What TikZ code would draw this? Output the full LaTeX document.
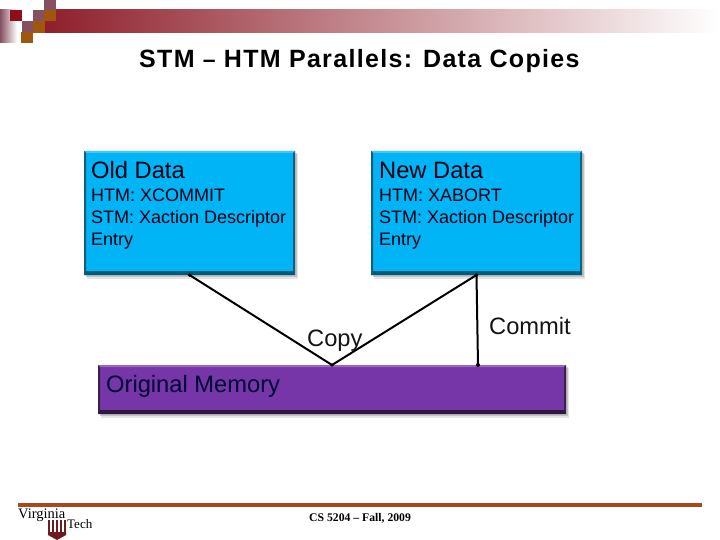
\documentclass[tikz,border=0pt]{standalone}
\usepackage{fontspec}
\setmainfont{Liberation Sans}
\newfontfamily\serifface{Liberation Serif}
\usetikzlibrary{calc}
\definecolor{boxblue}{HTML}{00B4F5}
\definecolor{boxpurple}{HTML}{7636A8}
\definecolor{barred}{HTML}{8E1F2B}
\definecolor{mauve}{HTML}{85505F}
\definecolor{rust}{HTML}{A0560F}
\definecolor{darkred}{HTML}{8C0F1E}
\definecolor{linered}{HTML}{A8481F}
\definecolor{logored}{HTML}{6E1A22}
\tikzset{
  x=1pt,y=-1pt,
  panel/.style={anchor=north west,inner sep=0pt,outer sep=0pt,minimum width=#1},
  bluepanel/.style={panel=211pt,minimum height=124pt},
  memorypanel/.style={panel=468pt,minimum height=49pt},
  txt/.style={anchor=base west,inner sep=0pt,text=black!92!blue},
  head/.style={txt,font=\fontsize{23.7}{26}\selectfont},
  body/.style={txt,font=\fontsize{18}{21}\selectfont},
  tag/.style={txt,font=\fontsize{23.7}{26}\selectfont,text=black!92},
  wire/.style={draw=black,line width=2pt},
  square/.style={anchor=north west,inner sep=0pt,outer sep=0pt,minimum width=11.5pt,minimum height=11.5pt}
}
\newcommand{\bevelbox}[3]{% node, light colour, dark colour
  \fill[black,opacity=.10] ($(#1.north west)+(3,3)$) rectangle ($(#1.south east)+(3,4)$);
  \fill[black,opacity=.15] ($(#1.north west)+(2,2)$) rectangle ($(#1.south east)+(1.5,2)$);
  \fill[boxfill] (#1.north west) rectangle (#1.south east);
  \fill[#2] (#1.north west) -- (#1.north east) -- ($(#1.north east)+(-2,2)$) -- ($(#1.north west)+(2,2)$) -- cycle;
  \fill[#2!60!#3] (#1.north west) -- ($(#1.north west)+(2,2)$) -- ($(#1.south west)+(2,-4)$) -- (#1.south west) -- cycle;
  \fill[#2!60!#3] (#1.north east) -- ($(#1.north east)+(-2,2)$) -- ($(#1.south east)+(-2,-4)$) -- (#1.south east) -- cycle;
  \fill[#3] (#1.south west) -- ($(#1.south west)+(2,-4)$) -- ($(#1.south east)+(-2,-4)$) -- (#1.south east) -- cycle;
}
\begin{document}
\begin{tikzpicture}
\useasboundingbox (0,0) rectangle (720,540);
\fill[white] (0,0) rectangle (720,540);
% header
\shade[left color=barred,right color=white] (44,10) rectangle (720,32.5);
\shade[left color=mauve,right color=white] (0,10) rectangle (17,43);
\node[square,fill=darkred] (sqa) at (10,10) {};
\node[square,fill=white] (sqw) at (21.5,10) {};
\node[square,fill=mauve] (sqb) at (33,10) {};
\node[square,fill=mauve] (sqc) at (44,-1) {};
\node[square,fill=rust] (sqd) at (44,10) {};
\node[square,fill=mauve] (sqe) at (21.5,21.5) {};
\node[square,fill=rust] (sqf) at (33,21.5) {};
\node[square,fill=rust] (sqg) at (21,32) {};
% title
\node[anchor=base west,inner sep=0pt,font=\fontsize{25}{28}\bfseries\selectfont] (title) at (139,68) {\addfontfeature{LetterSpace=5.3}STM {\fontsize{23}{23}\selectfont –} HTM Parallels: Data Copies};
% boxes
\node[bluepanel] (old) at (84,151) {};
\node[bluepanel] (new) at (371,151) {};
\node[memorypanel] (mem) at (98,365) {};
\coordinate (commitend) at (478,365);
\colorlet{boxfill}{boxblue}
\bevelbox{old}{boxblue!75!white}{boxblue!50!black}
\bevelbox{new}{boxblue!75!white}{boxblue!50!black}
\colorlet{boxfill}{boxpurple}
\bevelbox{mem}{boxpurple!75!white}{boxpurple!40!black}
% wires
\draw[wire] (old.south) -- (mem.north) -- (new.south);
\draw[wire] (new.south) -- (commitend);
\fill (old.south) circle (1.8);
\fill (new.south) circle (1.8);
\fill (mem.north) circle (1.8);
\fill (commitend) circle (2);
% box text
\node[head] (oldh) at (91,178.5) {Old Data};
\node[body] (oldl1) at (91,202) {HTM: XCOMMIT};
\node[body] (oldl2) at (91,223.5) {STM: Xaction Descriptor};
\node[body] (oldl3) at (91,245) {Entry};
\node[head] (newh) at (379,178.5) {New Data};
\node[body] (newl1) at (379,202) {HTM: XABORT};
\node[body] (newl2) at (379,223.5) {STM: Xaction Descriptor};
\node[body] (newl3) at (379,245) {Entry};
\node[tag,text=black!80!blue] (memt) at (106,392) {Original Memory};
\node[tag] (copy) at (307,346) {Copy};
\node[tag] (commit) at (489,334) {Commit};
% footer
\fill[linered] (18,503) rectangle (702,506.5);
\node[anchor=base west,inner sep=0pt,font=\serifface\bfseries\fontsize{11.7}{13}\selectfont] (foot) at (309,521) {CS 5204 – Fall, 2009};
% logo
\fill[logored] (48,532) -- (66,532) -- (66,535) -- (57,540) -- (48,535) -- cycle;
\draw[logored,line width=1.6pt] (49,520) -- (49,532) (53,520) -- (53,532) (57,520) -- (57,532) (61,520) -- (61,532) (65,520) -- (65,532);
\node[anchor=base west,inner sep=0pt,font=\serifface\fontsize{14.5}{16}\selectfont] (vt1) at (18,518) {Virginia};
\node[anchor=base west,inner sep=0pt,font=\serifface\fontsize{13}{16}\selectfont] (vt2) at (67,528) {Tech};
\end{tikzpicture}
\end{document}
